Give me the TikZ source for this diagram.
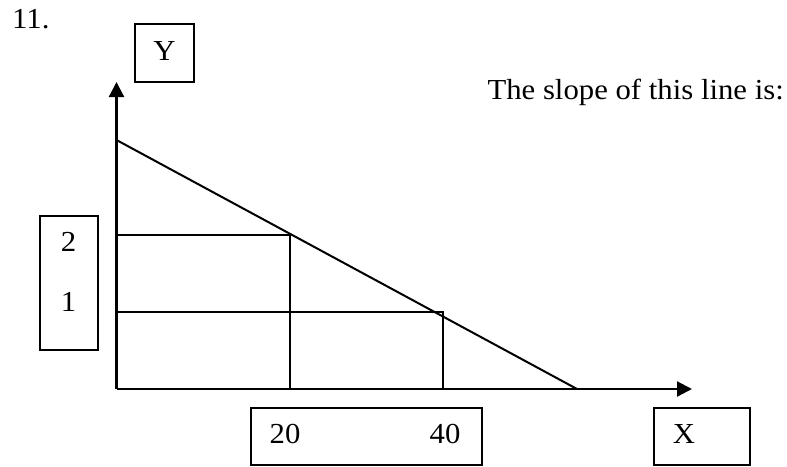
\documentclass[tikz,border=0pt]{standalone}
\usepackage{fontspec}
\setmainfont{Liberation Serif}[FakeStretch=1.06]
\usetikzlibrary{arrows.meta}
\begin{document}
\begin{tikzpicture}[x=1pt,y=-1pt,
  every node/.style={font=\fontsize{29}{32}\selectfont, inner sep=0pt},
  ln/.style={line width=2pt},
  ax/.style={line width=2.2pt,-{Triangle[length=15pt,width=15pt]}},
  lbox/.style={draw, line width=2pt}]
\useasboundingbox (0,0) rectangle (787,466);
% axes coordinates
\coordinate (O) at (116.5,389);
\coordinate (ytip) at (116.5,82);
\coordinate (xtip) at (692,389);
\coordinate (A) at (116.5,140);
\coordinate (B) at (577,389);
\coordinate (P2) at (289.5,235);
\coordinate (P1) at (442.5,312);
\coordinate (Y2) at (116.5,235);
\coordinate (Y1) at (116.5,312);
\coordinate (X2) at (289.5,389);
\coordinate (X1) at (442.5,389);
% grid lines
\draw[ln] (Y2) -- (P2) -- (X2);
\draw[ln] (Y1) -- (P1) -- (X1);
\draw[ln] (A) -- (B);
% axes
\draw[ax] (O) -- (ytip);
\draw[ax] (O) -- (xtip);
% boxes
\node[lbox, minimum width=59pt, minimum height=58pt] (ybox) at (164.5,53) {};
\node[anchor=base] (ylab) at (164.5,60) {Y};
\node[lbox, minimum width=58pt, minimum height=134.5pt] (lbx) at (68.5,282.75) {};
\node[anchor=base] (l2) at (68.5,251) {2};
\node[anchor=base] (l1) at (68.5,311) {1};
\node[lbox, minimum width=231pt, minimum height=57pt] (bbox) at (366,436.5) {};
\node[anchor=base] (b20) at (285,443) {20};
\node[anchor=base] (b40) at (445,443) {40};
\node[lbox, minimum width=96pt, minimum height=57pt] (xbox) at (702,436.5) {};
\node[anchor=base] (xlab) at (684,443) {X};
% texts
\node[anchor=base west] (num) at (12,28) {11.};
\node[anchor=base east] (q) at (784,99) {The slope of this line is:};
\end{tikzpicture}
\end{document}
